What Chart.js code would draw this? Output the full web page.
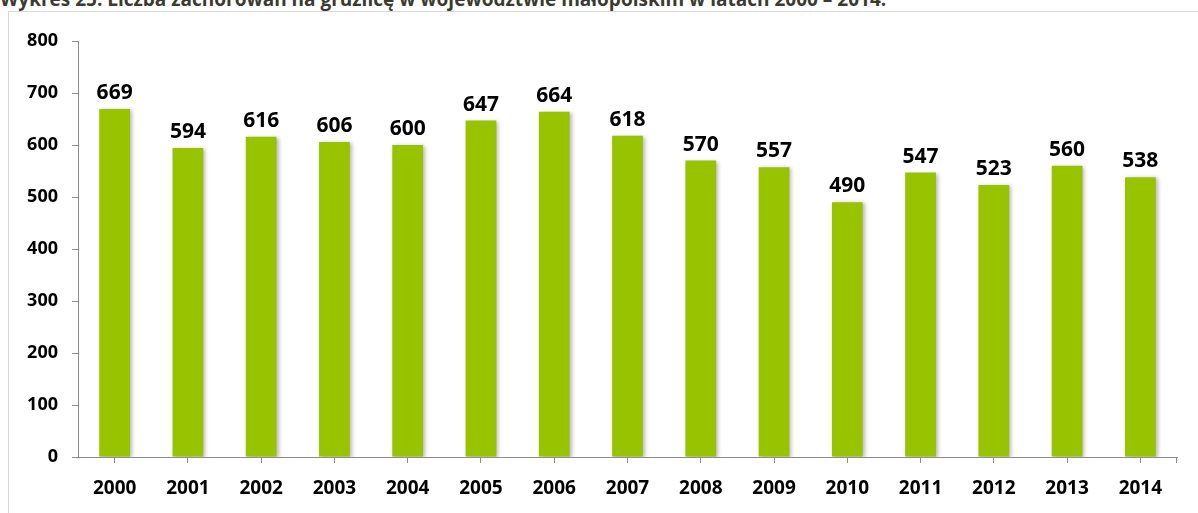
<!DOCTYPE html>
<html lang="pl">
<head>
<meta charset="utf-8">
<title>Zachorowania na gruźlicę</title>
<script src="https://cdn.jsdelivr.net/npm/chart.js@4/dist/chart.umd.min.js"></script>
<style>
  html, body { margin: 0; padding: 0; background: #fff; overflow: hidden; }
  #wrap { position: relative; width: 1198px; height: 513px; }
  #caption {
    position: absolute; left: 0; top: -11px; white-space: nowrap;
    font: bold 19px "Open Sans", sans-serif; line-height: 20px; color: #3a3a30;
  }
  #frame {
    position: absolute; left: 8px; top: 11px; right: 0; bottom: 0;
    border-left: 1px solid #d9d9d9; border-top: 1px solid #d9d9d9;
  }
  canvas { position: absolute; left: 0; top: 0; }
</style>
</head>
<body>
<div id="wrap">
  <div id="caption">Wykres 25. Liczba zachorowań na gruźlicę w województwie małopolskim w latach 2000 – 2014.</div>
  <div id="frame"></div>
  <canvas id="barChart" width="1198" height="513"></canvas>
</div>
<script>
const years = ["2000", "2001", "2002", "2003", "2004", "2005", "2006", "2007",
  "2008", "2009", "2010", "2011", "2012", "2013", "2014"];
const cases = [669, 594, 616, 606, 600, 647, 664, 618, 570, 557, 490, 547, 523, 560, 538];
const yTicks = [0, 100, 200, 300, 400, 500, 600, 700, 800];

const barColor = "#97c300";
const axisColor = "#8c8c8c";

// soft drop shadow under the bars
const barShadow = {
  id: "barShadow",
  beforeDatasetsDraw(chart) {
    const ctx = chart.ctx;
    ctx.save();
    ctx.shadowColor = "rgba(0,0,0,0.28)";
    ctx.shadowBlur = 4;
    ctx.shadowOffsetX = 2;
    ctx.shadowOffsetY = 1;
  },
  afterDatasetsDraw(chart) {
    chart.ctx.restore();
  }
};

// value written above each bar
const valueLabels = {
  id: "valueLabels",
  afterDraw(chart) {
    const ctx = chart.ctx;
    const meta = chart.getDatasetMeta(0);
    ctx.save();
    ctx.font = "bold 21px 'Open Sans', sans-serif";
    ctx.fillStyle = "#000";
    ctx.textAlign = "center";
    ctx.textBaseline = "alphabetic";
    meta.data.forEach((bar, i) => {
      ctx.fillText(String(cases[i]), bar.x, bar.y - 10);
    });
    // closing tick at the right end of the category axis
    const x = chart.scales.x;
    ctx.strokeStyle = axisColor;
    ctx.lineWidth = 1;
    ctx.beginPath();
    ctx.moveTo(Math.round(x.right) - 0.5, x.top);
    ctx.lineTo(Math.round(x.right) - 0.5, x.top + 6);
    ctx.stroke();
    ctx.restore();
  }
};

const ctx = document.getElementById("barChart").getContext("2d");

new Chart(ctx, {
  type: "bar",
  data: {
    labels: years,
    datasets: [{
      data: cases,
      backgroundColor: barColor,
      borderWidth: 0,
      categoryPercentage: 1,
      barPercentage: 0.42
    }]
  },
  options: {
    responsive: false,
    animation: false,
    layout: { padding: { left: 0, right: 21, top: 41, bottom: 0 } },
    plugins: {
      legend: { display: false },
      tooltip: { enabled: false }
    },
    scales: {
      x: {
        grid: {
          offset: false,
          drawOnChartArea: false,
          drawTicks: true,
          tickLength: 6,
          color: axisColor
        },
        border: { display: true, color: axisColor, width: 1 },
        ticks: {
          color: "#000",
          padding: 14,
          maxRotation: 0,
          font: { family: "'Open Sans', sans-serif", size: 19, weight: "bold" }
        },
        afterFit(scale) { scale.height = 56; }
      },
      y: {
        min: 0,
        max: 800,
        afterBuildTicks(scale) { scale.ticks = yTicks.map(v => ({ value: v })); },
        grid: {
          drawOnChartArea: false,
          drawTicks: true,
          tickLength: 6,
          color: axisColor
        },
        border: { display: true, color: axisColor, width: 1 },
        ticks: {
          color: "#000",
          padding: 14,
          font: { family: "'Open Sans', sans-serif", size: 18, weight: "bold" }
        },
        afterFit(scale) { scale.width = 78; }
      }
    }
  },
  plugins: [barShadow, valueLabels]
});
</script>
</body>
</html>
